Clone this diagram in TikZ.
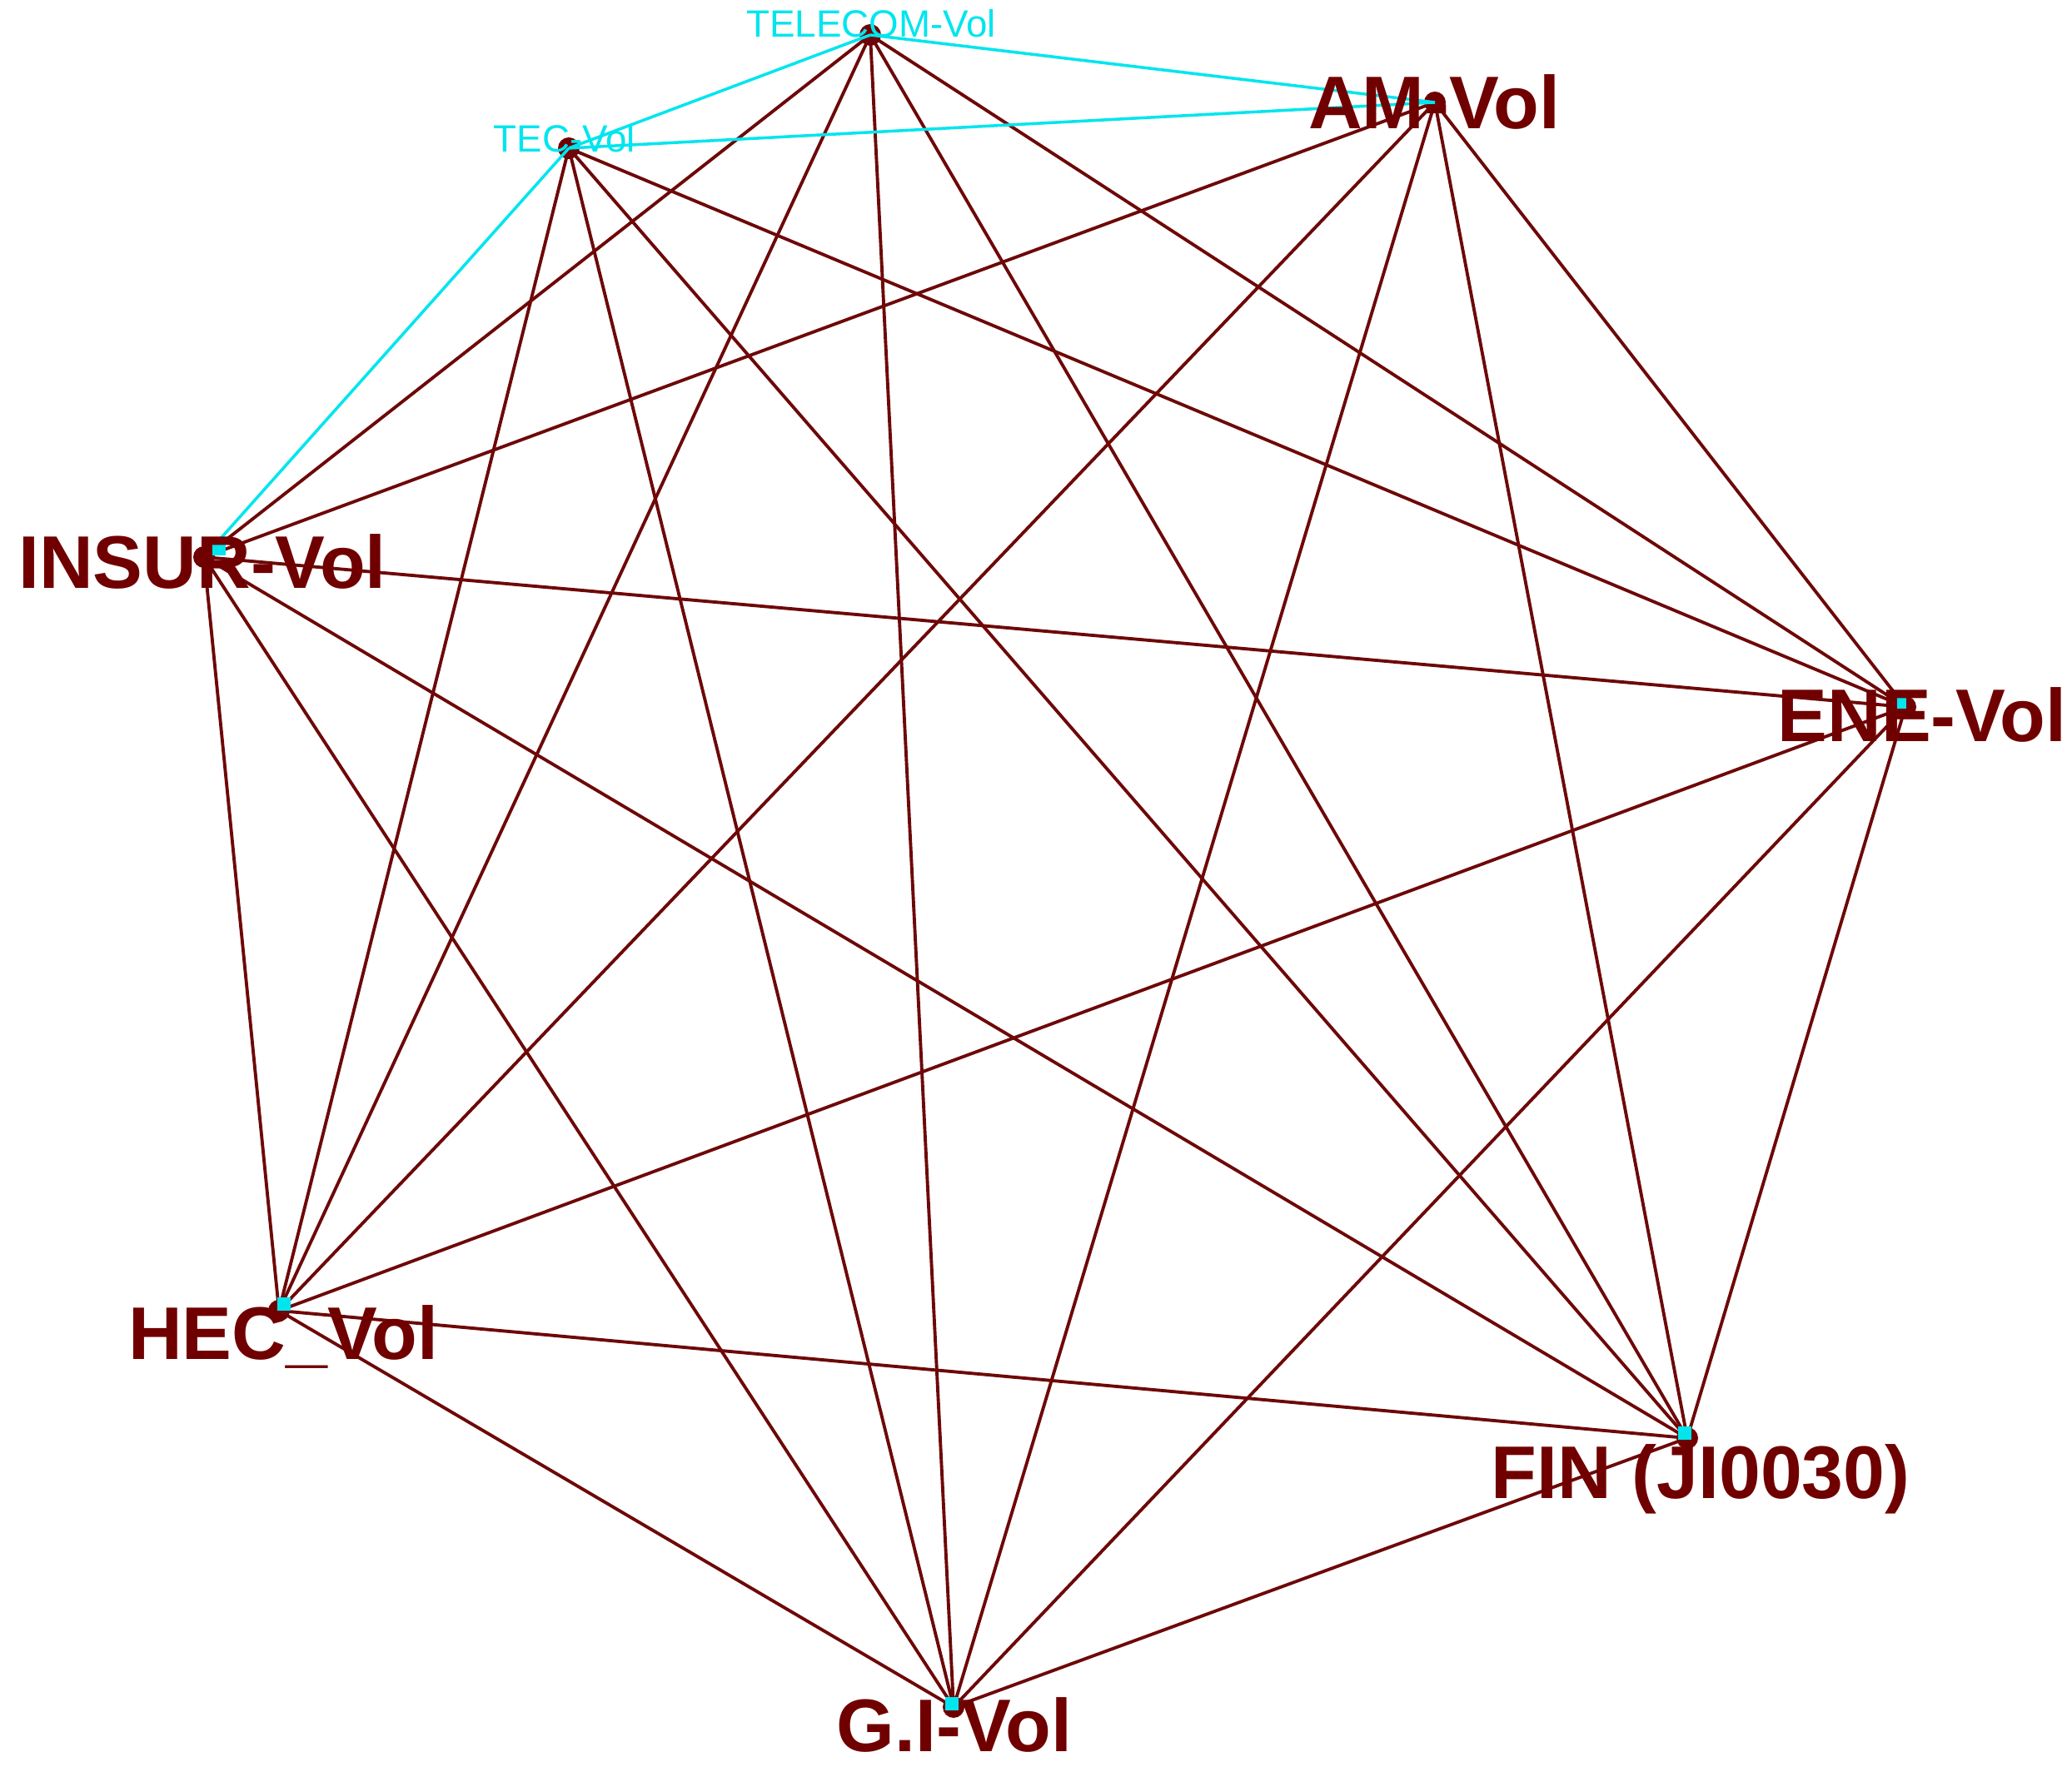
\documentclass[tikz,border=0pt]{standalone}
\usepackage{fontspec}
\setmainfont{Liberation Sans}
\definecolor{edgebrown}{RGB}{110,8,8}
\definecolor{labred}{RGB}{112,0,0}
\definecolor{cyanline}{RGB}{0,229,238}
\tikzset{
  hub/.style={circle,fill=labred,inner sep=0pt,minimum size=0.26cm},
  brown/.style={draw=edgebrown,line width=1.1pt},
  cyanedge/.style={draw=cyanline,line width=1.0pt},
  biglab/.style={anchor=base,inner sep=0pt,text=labred,font=\fontsize{25.5}{30}\selectfont\bfseries},
  smalllab/.style={anchor=base,inner sep=0pt,text=cyanline,font=\fontsize{13}{15}\selectfont},
  cmark/.style={fill=cyanline,inner sep=0pt,minimum size=0.16cm}
}
\begin{document}
\begin{tikzpicture}
\useasboundingbox (0,0) rectangle (24.88,21.22);
% hubs
\node[hub] (tel) at (10.45,20.80) {};
\node[hub] (tec) at (6.83,19.44) {};
\node[hub] (am) at (17.23,19.99) {};
\node[hub] (ins) at (2.45,14.53) {};
\node[hub] (ene) at (22.88,12.73) {};
\node[hub] (hec) at (3.35,5.48) {};
\node[hub] (fin) at (20.26,3.95) {};
\node[hub] (gi) at (11.45,0.72) {};
% brown edges
\foreach \a/\b in {tel/ins,tel/hec,tel/gi,tel/fin,tel/ene,
                   tec/hec,tec/gi,tec/fin,tec/ene,
                   am/ins,am/hec,am/gi,am/fin,am/ene,
                   ins/ene,ins/hec,ins/gi,ins/fin,
                   ene/hec,ene/gi,ene/fin,
                   hec/fin,hec/gi,fin/gi}
  \draw[brown] (\a.center) -- (\b.center);
% cyan edges
\foreach \a/\b in {tel/tec,tel/am,tec/am,tec/ins}
  \draw[cyanedge] (\a.center) -- (\b.center);
% small cyan marks
\node[cmark] (cins) at (2.63,14.63) {};
\node[cmark] (cene) at (22.81,12.79) {};
\node[cmark] (chec) at (3.41,5.56) {};
\node[cmark] (cfin) at (20.23,4.01) {};
\node[cmark] (cgi) at (11.43,0.76) {};
% labels
\node[smalllab] (ltel) at (10.46,20.77) {TELECOM-Vol};
\node[smalllab] (ltec) at (6.78,19.39) {TEC-Vol};
\node[biglab] (lam) at (17.22,19.67) {AM-Vol};
\node[biglab] (lins) at (2.43,14.15) {INSUR-Vol};
\node[biglab] (lene) at (23.08,12.31) {ENE-Vol};
\node[biglab] (lhec) at (3.40,4.89) {HEC\_Vol};
\node[biglab] (lfin) at (20.42,3.22) {FIN (JI0030)};
\node[biglab] (lgi) at (11.46,0.18) {G.I-Vol};
\end{tikzpicture}
\end{document}
